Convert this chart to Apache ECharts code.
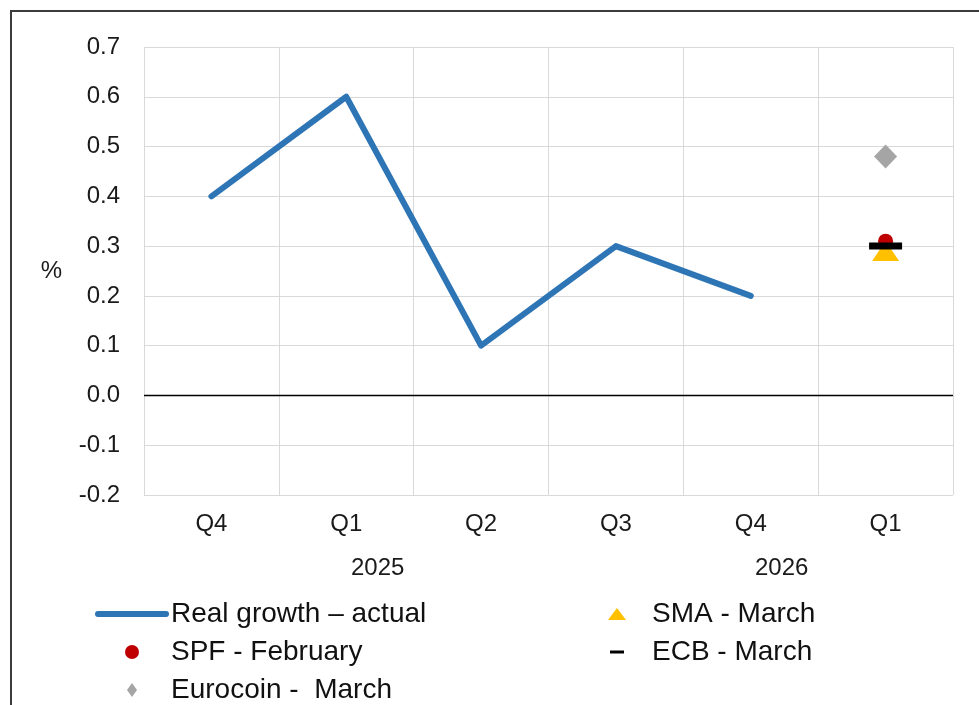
<!DOCTYPE html>
<html>
<head>
<meta charset="utf-8">
<script src="https://cdn.jsdelivr.net/npm/echarts@6/dist/echarts.min.js"></script>
<style>
  html, body { margin: 0; padding: 0; background: #fff; }
  #main { width: 979px; height: 705px; }
</style>
</head>
<body>
<div id="main"></div>
<script>
// categories (quarters) and the year labels under them
var quarters = ['Q4', 'Q1', 'Q2', 'Q3', 'Q4', 'Q1'];
var years = ['2025', '2026'];

// real growth, % q-o-q
var actual = [0.4, 0.6, 0.1, 0.3, 0.2, null];
// forecasts for Q1 2026 (category index 5)
var spf = [[5, 0.31]];
var sma = [[5, 0.29]];
var ecb = [[5, 0.30]];
var eurocoin = [[5, 0.48]];

var font = 'Liberation Sans, Arial, sans-serif';
var myChart = echarts.init(document.getElementById('main'));

var legendText = { fontSize: 28, color: '#111', lineHeight: 28, fontFamily: font };

myChart.setOption({
    animation: false,
    backgroundColor: '#fff',
    textStyle: { fontFamily: font },
    grid: { left: 144, right: 26, top: 47, bottom: 210 },
    legend: [
        {
            left: 95, top: 600, orient: 'vertical', padding: 0,
            itemWidth: 68, itemHeight: 14, itemGap: 10,
            textStyle: legendText,
            data: [
                {
                    name: 'Real growth – actual',
                    itemStyle: { opacity: 0 },
                    lineStyle: { width: 6, cap: 'round' }
                },
                'SPF - February',
                { name: 'Eurocoin -  March', icon: 'path://M0,0M14,14M7,0L12,7L7,14L2,7Z' }
            ]
        },
        {
            left: 608, top: 600, orient: 'vertical', padding: 0,
            itemWidth: 60, itemHeight: 16, itemGap: 10,
            textStyle: legendText,
            data: [
                { name: 'SMA - March', icon: 'path://M0,0M18,16M9,2L18,14H0Z' },
                { name: 'ECB - March', icon: 'path://M0,0M16,16M1,6.5H15V9.5H1Z' }
            ]
        }
    ],
    xAxis: {
        type: 'category',
        data: quarters,
        boundaryGap: true,
        axisLine: { show: false },
        axisTick: { show: false },
        axisLabel: { fontSize: 24, color: '#1a1a1a', margin: 17 },
        splitLine: { show: true, lineStyle: { color: '#d9d9d9', width: 1 } }
    },
    yAxis: {
        type: 'value',
        min: -0.2, max: 0.7, interval: 0.1,
        name: '%',
        nameLocation: 'middle',
        nameRotate: 0,
        nameGap: 82,
        nameTextStyle: { fontSize: 24, color: '#1a1a1a' },
        axisLine: { show: false },
        axisTick: { show: false },
        axisLabel: {
            fontSize: 24, color: '#1a1a1a', margin: 24,
            formatter: function (v) { return v.toFixed(1); }
        },
        splitLine: { lineStyle: { color: '#d9d9d9', width: 1 } }
    },
    series: [
        {
            name: 'Real growth – actual',
            type: 'line',
            data: actual,
            symbol: 'none',
            z: 3,
            lineStyle: { color: '#2e75b6', width: 6, cap: 'round', join: 'round' },
            itemStyle: { color: '#2e75b6' },
            markLine: {
                silent: true,
                symbol: 'none',
                label: { show: false },
                lineStyle: { color: '#000', width: 1.3, type: 'solid' },
                data: [{ yAxis: 0 }]
            }
        },
        {
            name: 'SMA - March',
            type: 'scatter',
            data: sma,
            symbol: 'triangle',
            symbolSize: [27, 20],
            z: 4,
            itemStyle: { color: '#ffc000', opacity: 1 }
        },
        {
            name: 'SPF - February',
            type: 'scatter',
            data: spf,
            symbol: 'circle',
            symbolSize: 15,
            z: 5,
            itemStyle: { color: '#c00000', opacity: 1 }
        },
        {
            name: 'ECB - March',
            type: 'scatter',
            data: ecb,
            symbol: 'rect',
            symbolSize: [33, 7],
            z: 6,
            itemStyle: { color: '#000', opacity: 1 }
        },
        {
            name: 'Eurocoin -  March',
            type: 'scatter',
            data: eurocoin,
            symbol: 'diamond',
            symbolSize: [23, 24],
            z: 4,
            itemStyle: { color: '#a5a5a5', opacity: 1 }
        }
    ],
    graphic: [
        {
            type: 'rect', silent: true, z: 100,
            shape: { x: 11, y: 11, width: 1000, height: 800 },
            style: { fill: null, stroke: '#3c3c3c', lineWidth: 2 }
        },
        {
            type: 'text', left: 378 - 27, top: 556,
            style: { text: years[0], font: '24px ' + font, fill: '#1a1a1a' }
        },
        {
            type: 'text', left: 782 - 27, top: 556,
            style: { text: years[1], font: '24px ' + font, fill: '#1a1a1a' }
        }
    ]
});
</script>
</body>
</html>
